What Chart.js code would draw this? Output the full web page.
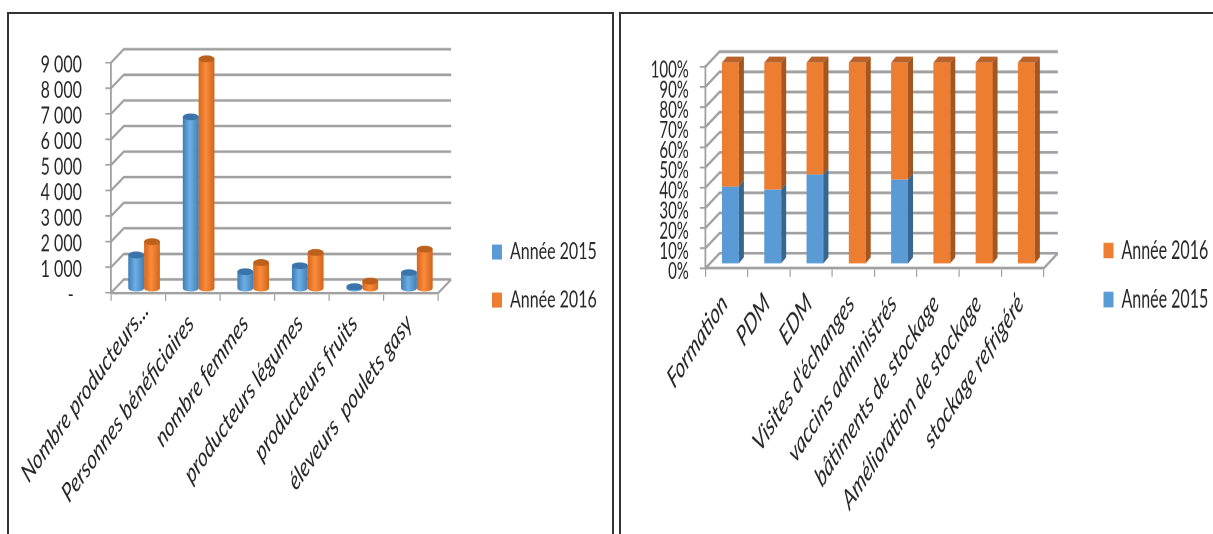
<!DOCTYPE html>
<html lang="fr">

<head>
  <meta charset="UTF-8">
  <title>Bénéficiaires et activités 2015-2016</title>
  <script src="https://cdn.jsdelivr.net/npm/chart.js"></script>
  <style>
    html, body { margin: 0; height: 100%; background: #fff; overflow: hidden; }
    .frame { position: absolute; top: 12px; height: 600px; border: 2px solid #333; box-sizing: border-box; }
    canvas { position: absolute; top: 0; transform-origin: 0 0; filter: blur(0.4px); }
  </style>
</head>

<body>
  <div class="frame" style="left:7px; width:607px"></div>
  <div class="frame" style="left:619px; width:640px"></div>
  <!-- the source picture is stretched vertically, so both canvases are drawn flat and scaled up by css -->
  <canvas id="peopleChart" width="613" height="376" style="left:0; transform:scaleY(1.42)"></canvas>
  <canvas id="activityChart" width="600" height="345" style="left:613px; transform:scaleY(1.55)"></canvas>

  <script>
    const seriesNames = ['Année 2015', 'Année 2016'];
    const seriesColors = ['#5b9bd5', '#ed7d31'];

    const peopleLabels = ['Nombre producteurs...', 'Personnes bénéficiaires', 'nombre femmes', 'producteurs légumes', 'producteurs fruits', 'éleveurs  poulets gasy'];
    const people2015 = [1330, 6730, 675, 910, 90, 640];
    const people2016 = [1850, 9000, 1030, 1430, 310, 1560];

    const activityLabels = ['Formation', 'PDM', 'EDM', "Visites d'échanges", 'vaccins administrés', 'bâtiments de stockage', 'Amélioration de stockage', 'stockage refrigéré'];
    const activity2015 = [38.5, 37, 44.5, 0, 42, 0, 0, 0];
    const activity2016 = [61.5, 63, 55.5, 100, 58, 100, 100, 100];

    const GRID = '#a0a0a0';
    const TEXT = '#262626';

    // back wall and floor, drawn from the y scale ticks
    function wallsPlugin(dx, dy) {
      return {
        id: 'walls',
        beforeDatasetsDraw(chart) {
          const { ctx, chartArea: a, scales: { y } } = chart;
          ctx.save();
          ctx.strokeStyle = GRID;
          ctx.lineWidth = 1.8;
          y.ticks.forEach(t => {
            const py = y.getPixelForValue(t.value);
            ctx.beginPath();
            ctx.moveTo(a.left, py);
            ctx.lineTo(a.left + dx, py + dy);
            ctx.lineTo(a.right + dx, py + dy);
            ctx.stroke();
          });
          ctx.beginPath();
          ctx.moveTo(a.right, a.bottom);
          ctx.lineTo(a.right + dx, a.bottom + dy);
          ctx.stroke();
          ctx.restore();
        }
      };
    }

    // the legend sits away from the plot, not right against it
    function legendAt(x, centerY) {
      return {
        id: 'legendAt',
        afterUpdate(chart) {
          const legend = chart.legend;
          legend.left = x - legend.options.labels.padding;
          legend.right = legend.left + legend.width;
          legend.top = centerY - legend.height / 2;
          legend.bottom = centerY + legend.height / 2;
        }
      };
    }

    // left chart: cylinders sitting halfway into the floor
    const cylinders = {
      id: 'cylinders',
      beforeDatasetDraw(chart, args) {
        const { ctx } = chart;
        const dark = args.index === 0 ? ['#3f7db5', '#6db0e6', '#437fb6', '#3b74a8'] : ['#d5661c', '#fb8c3c', '#d0651c', '#bd601c'];
        const ry = 2.4;
        args.meta.data.forEach(bar => {
          const x = bar.x + 5.9;
          const rx = bar.width / 2;
          const top = bar.y - 2.8;
          const base = bar.base - 2.8;
          const g = ctx.createLinearGradient(x - rx, 0, x + rx, 0);
          g.addColorStop(0, dark[0]);
          g.addColorStop(0.45, dark[1]);
          g.addColorStop(1, dark[2]);
          ctx.fillStyle = g;
          ctx.beginPath();
          ctx.moveTo(x - rx, top);
          ctx.lineTo(x - rx, base);
          ctx.ellipse(x, base, rx, ry, 0, Math.PI, 0, true);
          ctx.lineTo(x + rx, top);
          ctx.closePath();
          ctx.fill();
          ctx.fillStyle = dark[3];
          ctx.beginPath();
          ctx.ellipse(x, top, rx, ry, 0, 0, Math.PI * 2);
          ctx.fill();
        });
        return false;
      }
    };

    // right chart: square columns with a side and a top face
    const boxes = {
      id: 'boxes',
      beforeDatasetDraw(chart, args) {
        const { ctx } = chart;
        const front = seriesColors[args.index];
        const side = args.index === 0 ? '#39668f' : '#a5561e';
        const top = '#b9622a';
        const sx = 5;
        const sy = -3.9;
        args.meta.data.forEach(bar => {
          if (bar.base - bar.y < 0.5) return;
          const l = bar.x - bar.width / 2 + 3.9;
          const r = l + bar.width;
          const t = bar.y - 2.6;
          const b = bar.base - 2.6;
          ctx.fillStyle = side;
          ctx.beginPath();
          ctx.moveTo(r, t);
          ctx.lineTo(r + sx, t + sy);
          ctx.lineTo(r + sx, b + sy);
          ctx.lineTo(r, b);
          ctx.closePath();
          ctx.fill();
          if (args.index === 1) {
            ctx.fillStyle = top;
            ctx.beginPath();
            ctx.moveTo(l, t);
            ctx.lineTo(l + sx, t + sy);
            ctx.lineTo(r + sx, t + sy);
            ctx.lineTo(r, t);
            ctx.closePath();
            ctx.fill();
          }
          ctx.fillStyle = front;
          ctx.fillRect(l, t, bar.width, b - t);
        });
        return false;
      }
    };

    function baseOptions(o) {
      return {
        responsive: false,
        devicePixelRatio: 2,
        animation: false,
        layout: { padding: { left: 0, top: o.top, right: o.padRight, bottom: 0 } },
        plugins: {
          tooltip: { enabled: false },
          legend: {
            position: 'right',
            reverse: o.reverseLegend,
            labels: {
              boxWidth: 10,
              boxHeight: o.legendBox,
              padding: o.legendGap,
              color: TEXT,
              font: { family: 'Lato', size: 16 }
            }
          }
        },
        scales: {
          x: {
            stacked: o.stacked,
            afterFit: s => { s.height = o.xHeight; },
            border: { color: GRID, width: 1.8 },
            grid: { drawOnChartArea: false, color: GRID, lineWidth: 1.2, tickLength: o.tickLen },
            ticks: {
              autoSkip: false,
              minRotation: 45,
              maxRotation: 45,
              padding: o.labelPad,
              labelOffset: o.labelOffset,
              color: TEXT,
              font: { family: 'Lato', size: o.labelSize, style: 'italic' },
              callback: o.labelText
            }
          },
          y: {
            stacked: o.stacked,
            min: 0,
            max: o.max,
            afterFit: s => { s.width = o.yWidth; },
            border: { color: GRID, width: 1.8 },
            grid: { drawOnChartArea: false, color: GRID, lineWidth: 1.2, tickLength: o.tickLen },
            ticks: {
              autoSkip: false,
              stepSize: o.step,
              padding: o.tickPad,
              labelOffset: o.tickDrop,
              color: TEXT,
              font: { family: 'Lato', size: o.tickSize },
              callback: o.tickText
            }
          }
        }
      };
    }

    new Chart(document.getElementById('peopleChart'), {
      type: 'bar',
      data: {
        labels: peopleLabels,
        datasets: [
          { label: seriesNames[0], data: people2015, backgroundColor: seriesColors[0], categoryPercentage: 0.58, barPercentage: 1 },
          { label: seriesNames[1], data: people2016, backgroundColor: seriesColors[1], categoryPercentage: 0.58, barPercentage: 1 }
        ]
      },
      options: baseOptions({
        top: 44.2, padRight: 42.2, xHeight: 169.7, yWidth: 110.9, tickPad: 23.4, tickSize: 16, tickLen: 5.6, tickDrop: 1.4,
        max: 9000, step: 1000, stacked: false, reverseLegend: false, legendBox: 10.6, legendGap: 17.8,
        labelOffset: 7.2, labelPad: -4.3, labelSize: 18.5,
        // only the cut label reaches further up along its slant
        labelText: (v, i) => i === 0 ? peopleLabels[i] : peopleLabels[i] + '   ',
        tickText: v => v === 0 ? '-  ' : (v / 1000) + ' 000'
      }),
      plugins: [wallsPlugin(12.9, -9.5), cylinders, legendAt(492, 194.4)]
    });

    new Chart(document.getElementById('activityChart'), {
      type: 'bar',
      data: {
        labels: activityLabels,
        datasets: [
          { label: seriesNames[0], data: activity2015, backgroundColor: seriesColors[0], categoryPercentage: 0.4, barPercentage: 1 },
          { label: seriesNames[1], data: activity2016, backgroundColor: seriesColors[1], categoryPercentage: 0.4, barPercentage: 1 }
        ]
      },
      options: baseOptions({
        top: 43, padRight: 39, xHeight: 171.9, yWidth: 92.4, tickPad: 11.1, tickSize: 15, tickLen: 5.5, tickDrop: 2,
        max: 100, step: 10, stacked: true, reverseLegend: true, legendBox: 10, legendGap: 15.6,
        labelOffset: -2, labelPad: 6.6, labelSize: 18,
        labelText: (v, i) => activityLabels[i],
        tickText: v => v + '%'
      }),
      plugins: [wallsPlugin(14.2, -9.7), boxes, legendAt(490.5, 177.4)]
    });
  </script>

</body>

</html>
